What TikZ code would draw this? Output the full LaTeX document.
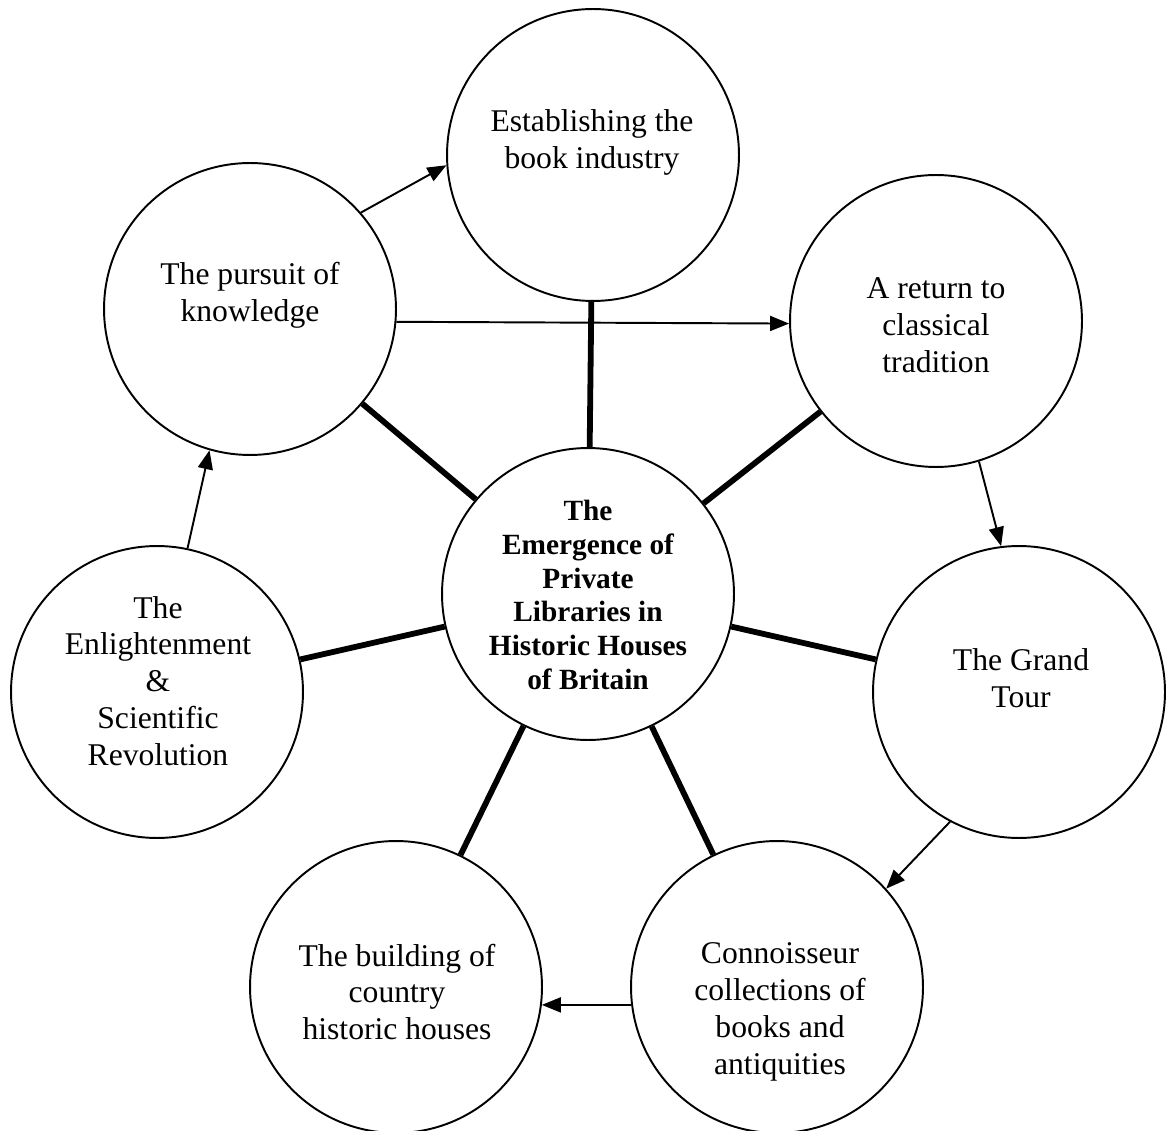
\documentclass[tikz,border=0pt]{standalone}
\usepackage{fontspec}
\setmainfont{Liberation Serif}
\usetikzlibrary{arrows.meta}
\begin{document}
\begin{tikzpicture}[x=0.02cm, y=-0.02cm,
    bubble/.style={draw, circle, line width=1.1pt, minimum size=5.84cm, inner sep=0pt},
    txt/.style={align=center, font=\fontsize{18}{21}\selectfont},
    spoke/.style={line width=3.3pt},
    flow/.style={line width=1.1pt, -{Triangle[length=0.38cm,width=0.3cm]}}]
\useasboundingbox (0,0) rectangle (1166,1131);
\node[bubble] (hub) at (588,594) {};
\node[txt, font=\fontsize{16.7}{19.3}\selectfont\bfseries] (hub-txt) at (588,595)
    {The\\Emergence of\\Private\\Libraries in\\Historic Houses\\of Britain};
\foreach \n/\x/\y/\tx/\ty/\s in {book/593/155/592/142/{Establishing the\\book industry},
        pursuit/250/309/250/295/{The pursuit of\\knowledge},
        return/936/321/936/325/{A return to\\classical\\tradition},
        grand/1019/692/1021/678/{The Grand\\Tour},
        conn/777/987/780/1012/{Connoisseur\\collections of\\books and\\antiquities},
        building/396/987/397/992/{The building of\\country\\historic houses},
        enlight/157/692/158/681/{The\\Enlightenment\\\&\\Scientific\\Revolution}}
    {\node[bubble] (\n) at (\x,\y) {};
     \node[txt] (\n-txt) at (\tx,\ty) {\s};
     \draw[spoke] (hub) -- (\n);}
\draw[flow] (pursuit.41) -- (book.184);
\draw[flow] (pursuit.-5.5) -- (return.181);
\draw[flow] (enlight.78) -- (pursuit.254);
\draw[flow] (return.-73) -- (grand.97);
\draw[flow] (grand.242) -- (conn.42);
\draw[flow] (conn.187) -- (building.-7);
\end{tikzpicture}
\end{document}
